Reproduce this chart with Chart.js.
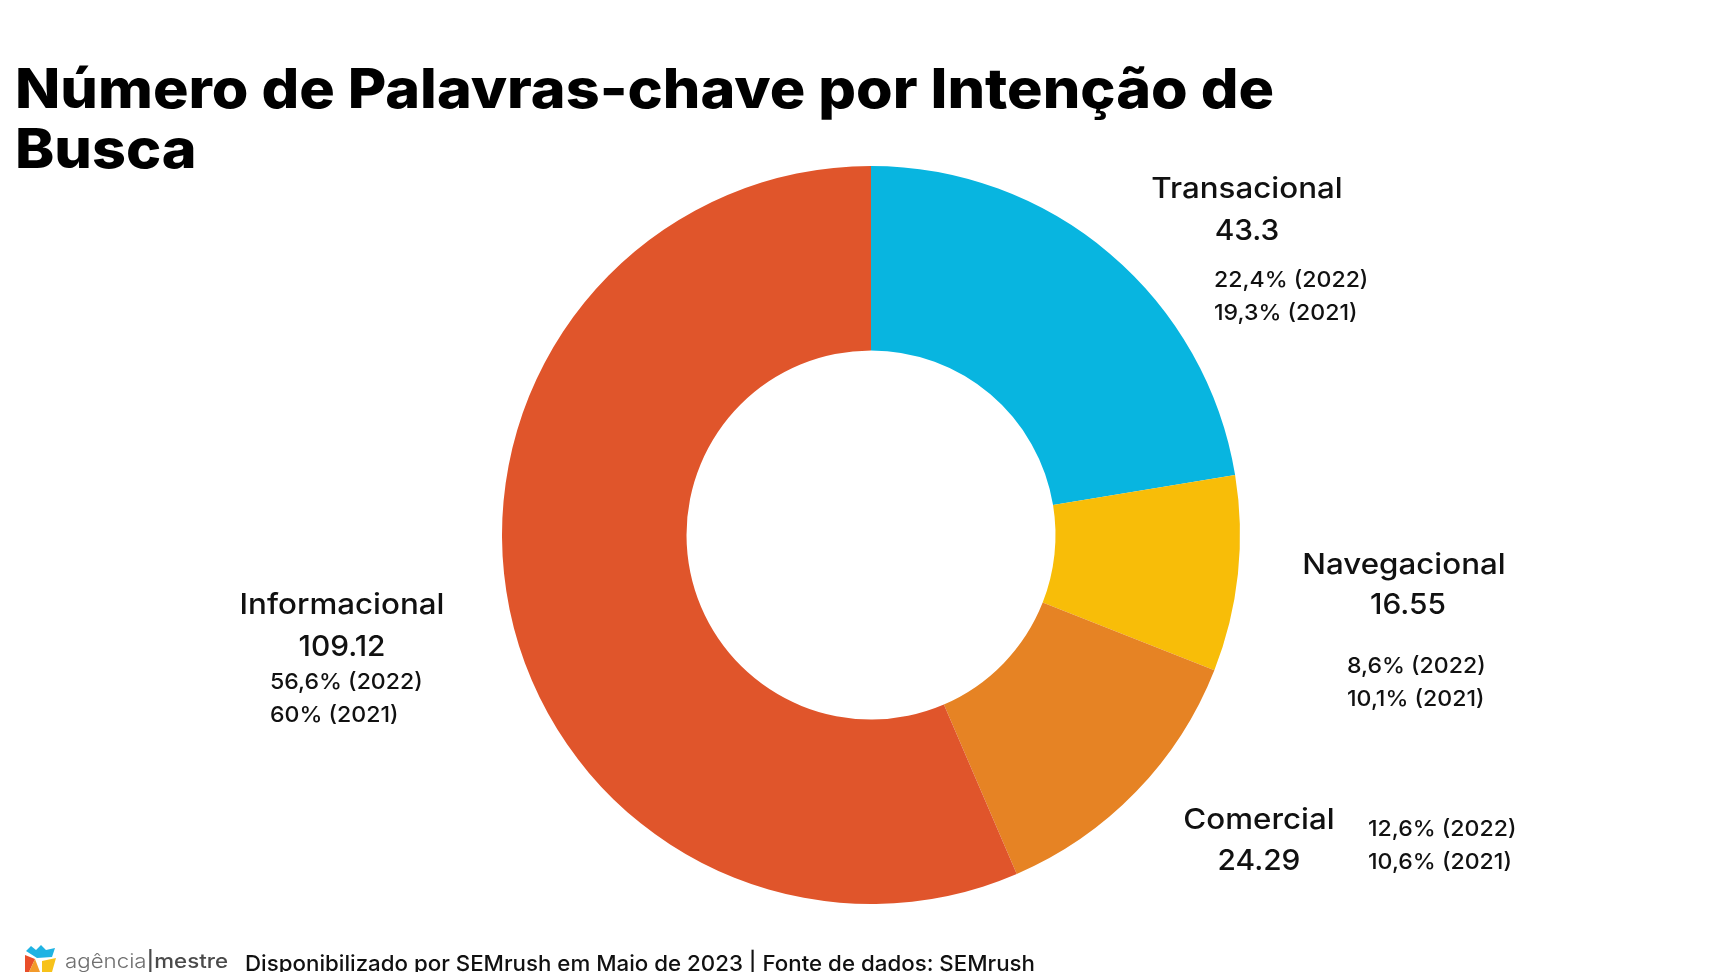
<!DOCTYPE html>
<html lang="pt-BR">
<head>
<meta charset="utf-8">
<title>Número de Palavras-chave por Intenção de Busca</title>
<script src="https://cdn.jsdelivr.net/npm/chart.js@4.4.1/dist/chart.umd.min.js"></script>
<style>
  html, body { margin: 0; padding: 0; background: #fff; }
  .container { position: relative; width: 1728px; height: 972px; overflow: hidden; }
</style>
</head>
<body>
<div class="container"><canvas id="intentChart"></canvas></div>
<script>
const categories = ['Transacional', 'Navegacional', 'Comercial', 'Informacional'];
const keywordCounts = [43.3, 16.55, 24.29, 109.12];
const share2022 = ['22,4%', '8,6%', '12,6%', '56,6%'];
const share2021 = ['19,3%', '10,1%', '10,6%', '60%'];
const sliceColors = ['#08B5E0', '#F8BD08', '#E68324', '#E0552B'];

const titleLines = ['Número de Palavras-chave por Intenção de', 'Busca'];
const footerText = 'Disponibilizado por SEMrush em Maio de 2023 | Fonte de dados: SEMrush';

const FONT = 'Inter, "Open Sans", sans-serif';

// label blocks, offsets from the doughnut centre (name/value centred, pct left aligned)
const labelSpots = [
    { name: [376, -348], value: [376, -306], pct: [343, -256] },
    { name: [533, 28], value: [537, 68], pct: [476, 130] },
    { name: [388, 283], value: [388, 324], pct: [497, 293] },
    { name: [-529, 68], value: [-529, 110], pct: [-601, 146] }
];

function fitText(ctx, text, x, y, font, width) {
    ctx.save();
    ctx.font = font;
    const w = ctx.measureText(text).width;
    const k = width ? width / w : 1;
    ctx.translate(x, y);
    ctx.scale(k, 1);
    ctx.fillText(text, 0, 0);
    ctx.restore();
    return k;
}

// the original font is wider than Inter, so stretch a little
function wideText(ctx, text, x, y, font, stretch) {
    ctx.save();
    ctx.font = font;
    ctx.translate(x, y);
    ctx.scale(stretch, 1);
    ctx.fillText(text, 0, 0);
    ctx.restore();
}

function drawLogo(ctx) {
    ctx.save();
    ctx.fillStyle = '#1FB3E3';
    ctx.beginPath();
    ctx.moveTo(26, 951); ctx.lineTo(31, 946); ctx.lineTo(36, 950); ctx.lineTo(41, 945);
    ctx.lineTo(46, 950); ctx.lineTo(55, 948); ctx.lineTo(52, 957); ctx.lineTo(37, 958);
    ctx.closePath(); ctx.fill();
    ctx.fillStyle = '#E94E2A';
    ctx.beginPath();
    ctx.moveTo(25, 955); ctx.lineTo(35, 959); ctx.lineTo(29, 972); ctx.lineTo(25, 972);
    ctx.closePath(); ctx.fill();
    ctx.fillStyle = '#F39A2B';
    ctx.beginPath();
    ctx.moveTo(35, 959); ctx.lineTo(40, 972); ctx.lineTo(29, 972);
    ctx.closePath(); ctx.fill();
    ctx.fillStyle = '#F7C21A';
    ctx.beginPath();
    ctx.moveTo(42, 961); ctx.lineTo(56, 958); ctx.lineTo(52, 972); ctx.lineTo(42, 972);
    ctx.closePath(); ctx.fill();
    ctx.restore();

    ctx.save();
    ctx.textAlign = 'left';
    ctx.textBaseline = 'alphabetic';
    ctx.font = '300 20px ' + FONT;
    const w1 = ctx.measureText('agência').width;
    ctx.font = '500 20px ' + FONT;
    const w2 = ctx.measureText('|mestre').width;
    const k = 163 / (w1 + w2);
    ctx.translate(65, 968);
    ctx.scale(k, 1);
    ctx.fillStyle = '#707070';
    ctx.font = '300 20px ' + FONT;
    ctx.fillText('agência', 0, 0);
    ctx.fillStyle = '#4a4a4a';
    ctx.font = '500 20px ' + FONT;
    ctx.fillText('|mestre', w1, 0);
    ctx.restore();
}

const textPlugin = {
    id: 'slideText',
    afterDraw(chart) {
        const ctx = chart.ctx;
        const arc = chart.getDatasetMeta(0).data[0];
        const cx = arc.x, cy = arc.y;

        ctx.save();
        ctx.fillStyle = '#000';
        ctx.textBaseline = 'alphabetic';

        // title
        ctx.textAlign = 'left';
        const titleFont = '800 55px ' + FONT;
        const k = fitText(ctx, titleLines[0], 15, 108, titleFont, 1259);
        ctx.save();
        ctx.font = titleFont;
        ctx.translate(15, 168);
        ctx.scale(k, 1);
        ctx.fillText(titleLines[1], 0, 0);
        ctx.restore();

        // slice labels
        ctx.fillStyle = '#111';
        categories.forEach((cat, i) => {
            const s = labelSpots[i];
            ctx.textAlign = 'center';
            wideText(ctx, cat, cx + s.name[0], cy + s.name[1] + 10.5, '500 29px ' + FONT, 1.08);
            wideText(ctx, String(keywordCounts[i]), cx + s.value[0], cy + s.value[1] + 10.5, '500 29px ' + FONT, 1.03);
            ctx.textAlign = 'left';
            wideText(ctx, share2022[i] + ' (2022)', cx + s.pct[0], cy + s.pct[1] + 8, '500 22px ' + FONT, 1.05);
            wideText(ctx, share2021[i] + ' (2021)', cx + s.pct[0], cy + s.pct[1] + 33 + 8, '500 22px ' + FONT, 1.05);
        });

        // footer
        ctx.textAlign = 'left';
        ctx.fillStyle = '#111';
        fitText(ctx, footerText, 245, 971, '500 22px ' + FONT, 790);
        drawLogo(ctx);
        ctx.restore();
    }
};

const ctx = document.getElementById('intentChart').getContext('2d');
new Chart(ctx, {
    type: 'doughnut',
    data: {
        labels: categories,
        datasets: [{
            data: keywordCounts,
            backgroundColor: sliceColors,
            borderWidth: 0
        }]
    },
    options: {
        responsive: true,
        maintainAspectRatio: false,
        animation: false,
        cutout: '50%',
        layout: { padding: { left: 502, right: 488, top: 166, bottom: 68 } },
        plugins: {
            legend: { display: false },
            tooltip: { enabled: false }
        }
    },
    plugins: [textPlugin]
});
</script>
</body>
</html>
